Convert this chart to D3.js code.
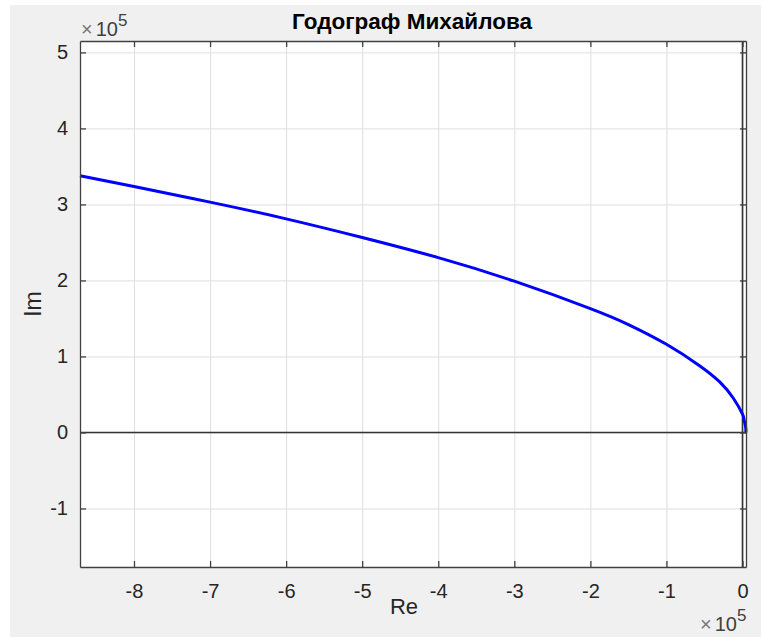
<!DOCTYPE html>
<html>
<head>
<meta charset="utf-8">
<script src="https://cdn.jsdelivr.net/npm/d3@7"></script>
<style>
  body { margin: 0; background: #fff; }
  text { font-family: "Liberation Sans", Arial, Helvetica, sans-serif; fill: #262626; }
</style>
</head>
<body>
<svg id="chart"></svg>
<script>
// hodograph points, units of 1e5
const reVals = [0.045, 0.04, 0.02, 0.0, -0.12, -0.3, -0.56, -1.0, -1.5, -2.0, -3.0, -4.0, -5.0, -6.0, -7.0, -8.0, -8.71];
const imVals = [0.0, 0.08, 0.17, 0.24, 0.45, 0.665, 0.875, 1.16, 1.42, 1.63, 1.99, 2.30, 2.565, 2.81, 3.03, 3.235, 3.378];
const xTicks = [-8, -7, -6, -5, -4, -3, -2, -1, 0];
const yTicks = [-1, 0, 1, 2, 3, 4, 5];

const svgWidth = 762, svgHeight = 639;
const pLeft = 80, pRight = 746, pTop = 41, pBottom = 567;

const svg = d3.select('#chart')
  .attr('width', svgWidth)
  .attr('height', svgHeight);

// figure background
svg.append('rect')
  .attr('x', 10).attr('y', 5)
  .attr('width', 751).attr('height', 632)
  .style('fill', '#f0f0f0');

svg.append('rect')
  .attr('x', pLeft).attr('y', pTop)
  .attr('width', pRight - pLeft).attr('height', pBottom - pTop)
  .style('fill', '#fff');

const x = d3.scaleLinear().domain([-8.71, 0.046]).range([pLeft, pRight]);
const y = d3.scaleLinear().domain([-1.77, 5.15]).range([pBottom, pTop]);

// grid
svg.append('g')
  .attr('transform', `translate(0,${pBottom})`)
  .call(d3.axisBottom(x).tickValues(xTicks).tickSize(-(pBottom - pTop)).tickFormat(''))
  .call(g => g.select('.domain').remove())
  .call(g => g.selectAll('line').style('stroke', '#dedede'));

svg.append('g')
  .attr('transform', `translate(${pLeft},0)`)
  .call(d3.axisLeft(y).tickValues(yTicks).tickSize(-(pRight - pLeft)).tickFormat(''))
  .call(g => g.select('.domain').remove())
  .call(g => g.selectAll('line').style('stroke', '#dedede'));

// zero lines
svg.append('line')
  .attr('x1', pLeft).attr('x2', pRight)
  .attr('y1', y(0)).attr('y2', y(0))
  .style('stroke', '#333').style('stroke-width', 1.6);
svg.append('line')
  .attr('x1', x(0)).attr('x2', x(0))
  .attr('y1', pTop).attr('y2', pBottom)
  .style('stroke', '#333').style('stroke-width', 1.6);

// curve
const pts = reVals.map((d, i) => [d, imVals[i]]);
svg.append('path')
  .datum(pts)
  .attr('d', d3.line().x(d => x(d[0])).y(d => y(d[1])).curve(d3.curveNatural))
  .style('fill', 'none')
  .style('stroke', '#0000ff')
  .style('stroke-width', 3);

// axes, ticks inward
const tick = 6;
function styleAxis(g) {
  g.select('.domain').style('stroke', '#404040').style('stroke-width', 1.3);
  g.selectAll('.tick line').style('stroke', '#404040').style('stroke-width', 1.3);
  g.selectAll('.tick text').style('font-size', '20px').style('fill', '#262626')
    .style('font-family', '"Liberation Sans", Arial, sans-serif');
}

svg.append('g')
  .attr('transform', `translate(0,${pBottom})`)
  .call(d3.axisBottom(x).tickValues(xTicks).tickSizeInner(-tick).tickSizeOuter(0).tickPadding(17).tickFormat(d => String(d)))
  .call(styleAxis);

svg.append('g')
  .attr('transform', `translate(0,${pTop})`)
  .call(d3.axisTop(x).tickValues(xTicks).tickSizeInner(-tick).tickSizeOuter(0).tickFormat(''))
  .call(styleAxis);

svg.append('g')
  .attr('transform', `translate(${pLeft},0)`)
  .call(d3.axisLeft(y).tickValues(yTicks).tickSizeInner(-tick).tickSizeOuter(0).tickPadding(12).tickFormat(d => String(d)))
  .call(styleAxis);

svg.append('g')
  .attr('transform', `translate(${pRight},0)`)
  .call(d3.axisRight(y).tickValues(yTicks).tickSizeInner(-tick).tickSizeOuter(0).tickFormat(''))
  .call(styleAxis);

// title and labels
svg.append('text')
  .attr('x', 412).attr('y', 29)
  .attr('text-anchor', 'middle')
  .style('font-size', '22.5px').style('font-weight', 'bold').style('fill', '#000')
  .text('Годограф Михайлова');

svg.append('text')
  .attr('x', 404).attr('y', 614)
  .attr('text-anchor', 'middle')
  .style('font-size', '22px')
  .text('Re');

svg.append('text')
  .attr('transform', `translate(41,${(pTop + pBottom) / 2}) rotate(-90)`)
  .attr('text-anchor', 'middle')
  .style('font-size', '23px')
  .text('Im');

// exponent labels
function expLabel(xp, yp) {
  const t = svg.append('text').attr('x', xp).attr('y', yp).style('font-size', '20px').style('fill', '#404040');
  t.append('tspan').style('fill', '#777').text('×');
  t.append('tspan').attr('dx', 3).text('10');
  t.append('tspan').attr('dy', -10).style('font-size', '17px').text('5');
}
expLabel(81, 36);
expLabel(700, 631);
</script>
</body>
</html>
